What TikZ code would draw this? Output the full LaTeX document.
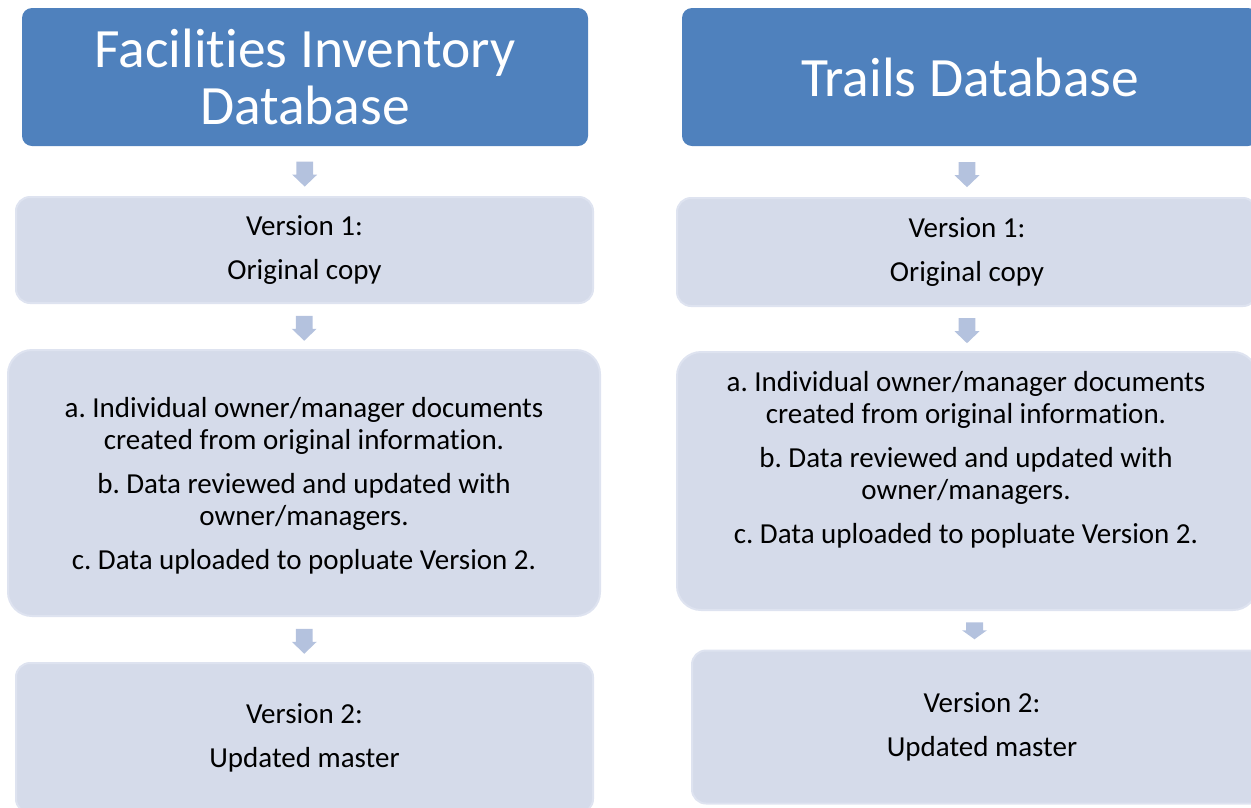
\documentclass[tikz,border=0pt]{standalone}
\usepackage{fontspec}
\setmainfont{Carlito}[Ligatures=NoCommon]
\usetikzlibrary{calc}
\definecolor{hdr}{RGB}{79,129,189}
\definecolor{boxfill}{RGB}{213,219,234}
\definecolor{boxline}{RGB}{222,227,240}
\definecolor{arrowc}{RGB}{180,194,222}
\newcommand\blockdown[4]{% coordinate, shaft height, head height, shaft half width
  \fill[arrowc] ($(#1)+(-#4,#2)$) -- ($(#1)+(#4,#2)$) -- ($(#1)+(#4,0pt)$) -- ($(#1)+(12.5pt,0pt)$)
    -- ($(#1)+(0pt,-#3)$) -- ($(#1)+(-12.5pt,0pt)$) -- ($(#1)+(-#4,0pt)$) -- cycle;}
\frenchspacing
\begin{document}
\begin{tikzpicture}[x=1pt,y=-1pt,
  header/.style={fill=hdr, rounded corners=10pt, text=white, align=center,
    font=\fontsize{55.5}{57}\selectfont, inner sep=0pt},
  stepbox/.style={fill=boxfill, draw=boxline, line width=2pt, align=center,
    font=\fontsize{29}{32}\selectfont, inner sep=0pt},
  steptext/.style={align=center, font=\fontsize{29}{32}\selectfont, inner sep=0pt}]
\useasboundingbox (0,0) rectangle (1251,807);
% left column
\node[header, minimum width=566pt, minimum height=138pt] (lh) at (305,77) {Facilities Inventory\\Database};
\node[stepbox, rounded corners=14pt, minimum width=577pt, minimum height=106pt] (lv1) at (304.5,250) {Version 1:\\[12pt]Original copy};
\node[stepbox, rounded corners=24pt, minimum width=592pt, minimum height=266pt] (labc) at (304,483) {};
\node[steptext] (labct) at ($(labc.center)+(0,2.5)$)
  {a. Individual owner/manager documents\\created from original information.\\[12pt]
   b. Data reviewed and updated with\\owner/managers.\\[12pt]
   c. Data uploaded to popluate Version 2.};
\node[stepbox, rounded corners=14pt, minimum width=577pt, minimum height=150pt] (lv2) at (304.5,738) {Version 2:\\[12pt]Updated master};
% right column
\node[header, minimum width=576pt, minimum height=138pt] (rh) at (970,77) {Trails Database};
\node[stepbox, rounded corners=14pt, minimum width=580pt, minimum height=108pt] (rv1) at (967,252) {Version 1:\\[12pt]Original copy};
\node[stepbox, rounded corners=24pt, minimum width=580pt, minimum height=258pt] (rabc) at (967,481) {};
\node[steptext] (rabct) at ($(rabc.center)+(-1,-21)$)
  {a. Individual owner/manager documents\\created from original information.\\[12pt]
   b. Data reviewed and updated with\\owner/managers.\\[12pt]
   c. Data uploaded to popluate Version 2.};
\node[stepbox, rounded corners=14pt, minimum width=580pt, minimum height=153pt] (rv2) at (982,727) {Version 2:\\[12pt]Updated master};
% connectors
\path (lh.south) -- (lv1.north) coordinate[pos=0.57] (a1);
\path (lv1.south) -- (labc.north) coordinate[pos=0.55] (a2);
\path (labc.south) -- (lv2.north) coordinate[pos=0.55] (a3);
\path (rh.south -| rv1.north) -- (rv1.north) coordinate[pos=0.57] (b1);
\path (rv1.south) -- (rabc.north) coordinate[pos=0.55] (b2);
\path (rabc.south -| 974.5,0) -- (rv2.north -| 974.5,0) coordinate[pos=0.5] (b3);
\blockdown{a1}{13pt}{12pt}{8.3pt}
\blockdown{a2}{13pt}{12pt}{8.3pt}
\blockdown{a3}{13pt}{12pt}{8.3pt}
\blockdown{b1}{13pt}{12pt}{8.3pt}
\blockdown{b2}{13pt}{12pt}{8.3pt}
\blockdown{b3}{8pt}{9pt}{8.5pt}
\end{tikzpicture}
\end{document}
